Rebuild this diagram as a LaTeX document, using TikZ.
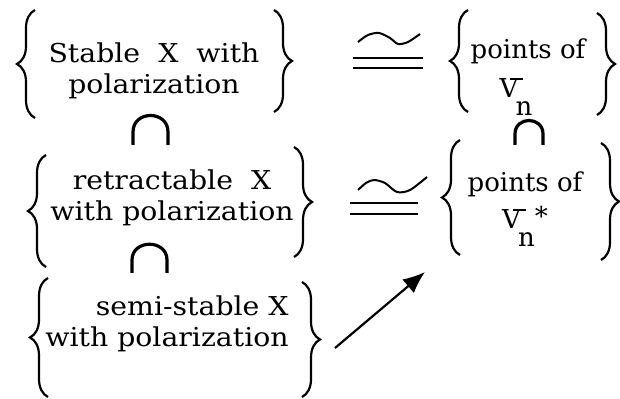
\documentclass[tikz,border=0pt]{standalone}
\usepackage{fontspec}
\setmainfont{DejaVu Serif}
\newfontfamily\widefont[FakeStretch=1.09]{DejaVu Serif}
\usetikzlibrary{arrows.meta, decorations.pathreplacing}
\newcommand{\Vn}{V\rlap{\kern-0.32em\rule[0.66em]{0.5em}{0.07em}}\kern-0.1em\raisebox{-0.72em}{n}}

\begin{document}
\begin{tikzpicture}[
    x=0.5pt, y=-0.5pt,
    set/.style={align=center, font=\fontsize{13}{15.5}\selectfont, inner sep=0pt},
    lset/.style={set, font=\widefont\fontsize{13}{15.5}\selectfont},
    brc/.style={decorate, decoration={brace, amplitude=9pt}, line width=1.1pt},
    sub/.style={line width=1.6pt},
    iso/.style={line width=1pt},
    arr/.style={-{Latex[length=11pt, width=9pt]}, line width=1.1pt}
  ]
  \useasboundingbox (0,0) rectangle (620,399);

  \node[lset] (stab) at (154,71) {Stable\ \ X\ \ with\\polarization};
  \node[lset] (retr) at (172,198) {retractable\ \ X\\with polarization};
  \node[lset, align=right] (semi) at (167,324) {semi-stable X\\with polarization};
  \node[set] (ptsA) at (528,77) {points of\\[4pt]\Vn\rule{12pt}{0pt}};
  \node[set] (ptsB) at (525,209) {points of\\[3pt]\Vn\raisebox{0.1em}{*}};

  \draw[brc] (35,118) -- (35,10);
  \draw[brc] (274,10) -- (274,112);
  \draw[brc] (468,112) -- (468,10);
  \draw[brc] (597,13) -- (597,115);
  \draw[brc] (46,267) -- (46,155);
  \draw[brc] (294,147) -- (294,257);
  \draw[brc] (460,255) -- (460,140);
  \draw[brc] (601,143) -- (601,260);
  \draw[brc] (48,397) -- (48,278);
  \draw[brc] (302,282) -- (302,397);

  \draw[sub] (133,145) -- (133,132) .. controls (133,110) and (168,110) .. (168,132) -- (168,145);
  \draw[sub] (515,145) -- (515,134) .. controls (515,116) and (543,116) .. (543,134) -- (543,145);
  \draw[sub] (132,273) -- (132,260) .. controls (132,239) and (167,239) .. (167,260) -- (167,273);

  \draw[iso] plot[smooth] coordinates {(358,42) (368,35) (379,33) (390,38) (398,44) (408,42) (420,34)};
  \draw[iso] (353,58) -- (423,58);
  \draw[iso] (353,68) -- (423,68);
  \draw[iso] plot[smooth] coordinates {(358,190) (366,183) (374,180) (385,183) (397,192) (410,190) (427,177)};
  \draw[iso] (350,203) -- (418,203);
  \draw[iso] (350,214) -- (418,214);

  \coordinate (arrfrom) at (335,348);
  \coordinate (arrto) at (425,272);
  \draw[arr] (arrfrom) -- (arrto);
\end{tikzpicture}
\end{document}
